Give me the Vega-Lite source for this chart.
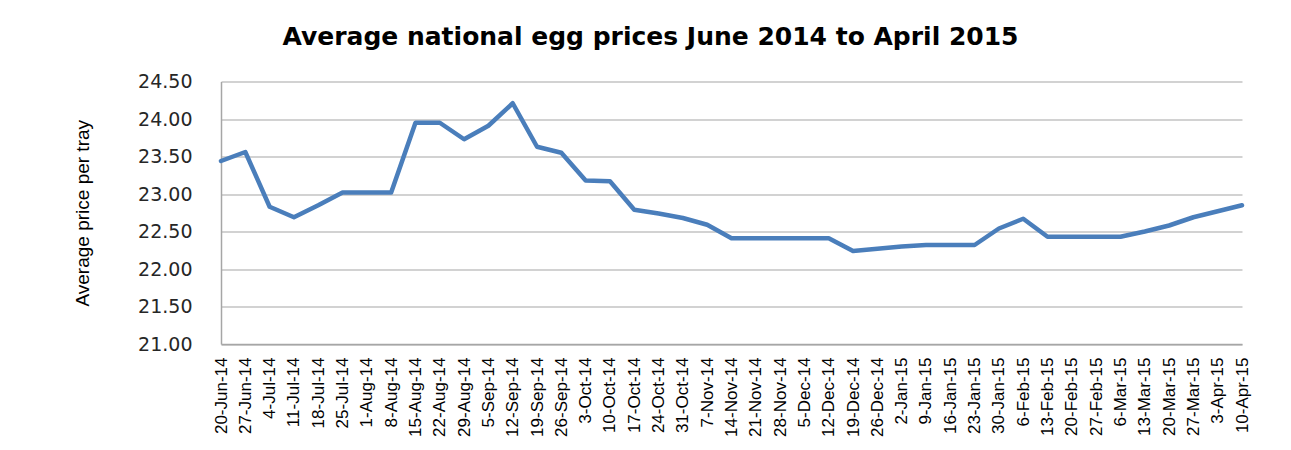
{
  "$schema": "https://vega.github.io/schema/vega-lite/v6.json",
  "autosize": {"type": "none"},
  "width": 1021,
  "height": 262.5,
  "padding": {"left": 221, "top": 81.5, "right": 49, "bottom": 106},
  "background": "white",
  "title": {
    "text": "Average national egg prices June 2014 to April 2015",
    "font": "DejaVu Sans",
    "fontSize": 25,
    "fontWeight": "bold",
    "color": "#000000",
    "anchor": "middle",
    "dx": -81,
    "offset": 23
  },
  "data": {
    "values": [
      {"week": "20-Jun-14", "price": 23.44},
      {"week": "27-Jun-14", "price": 23.56},
      {"week": "4-Jul-14", "price": 22.83},
      {"week": "11-Jul-14", "price": 22.69},
      {"week": "18-Jul-14", "price": 22.85},
      {"week": "25-Jul-14", "price": 23.02},
      {"week": "1-Aug-14", "price": 23.02},
      {"week": "8-Aug-14", "price": 23.02},
      {"week": "15-Aug-14", "price": 23.95},
      {"week": "22-Aug-14", "price": 23.95},
      {"week": "29-Aug-14", "price": 23.73},
      {"week": "5-Sep-14", "price": 23.91},
      {"week": "12-Sep-14", "price": 24.21},
      {"week": "19-Sep-14", "price": 23.63},
      {"week": "26-Sep-14", "price": 23.55},
      {"week": "3-Oct-14", "price": 23.18},
      {"week": "10-Oct-14", "price": 23.17},
      {"week": "17-Oct-14", "price": 22.79},
      {"week": "24-Oct-14", "price": 22.74},
      {"week": "31-Oct-14", "price": 22.68},
      {"week": "7-Nov-14", "price": 22.59},
      {"week": "14-Nov-14", "price": 22.41},
      {"week": "21-Nov-14", "price": 22.41},
      {"week": "28-Nov-14", "price": 22.41},
      {"week": "5-Dec-14", "price": 22.41},
      {"week": "12-Dec-14", "price": 22.41},
      {"week": "19-Dec-14", "price": 22.24},
      {"week": "26-Dec-14", "price": 22.27},
      {"week": "2-Jan-15", "price": 22.30},
      {"week": "9-Jan-15", "price": 22.32},
      {"week": "16-Jan-15", "price": 22.32},
      {"week": "23-Jan-15", "price": 22.32},
      {"week": "30-Jan-15", "price": 22.54},
      {"week": "6-Feb-15", "price": 22.67},
      {"week": "13-Feb-15", "price": 22.43},
      {"week": "20-Feb-15", "price": 22.43},
      {"week": "27-Feb-15", "price": 22.43},
      {"week": "6-Mar-15", "price": 22.43},
      {"week": "13-Mar-15", "price": 22.50},
      {"week": "20-Mar-15", "price": 22.58},
      {"week": "27-Mar-15", "price": 22.69},
      {"week": "3-Apr-15", "price": 22.77},
      {"week": "10-Apr-15", "price": 22.85}
    ]
  },
  "mark": {"type": "line", "color": "#4a7ebb", "strokeWidth": 4.5, "strokeJoin": "round", "strokeCap": "round"},
  "encoding": {
    "x": {
      "field": "week",
      "type": "ordinal",
      "sort": null,
      "scale": {"type": "point", "padding": 0},
      "axis": {
        "title": null,
        "labelAngle": 270,
        "labelAlign": "right",
        "labelBaseline": "middle",
        "labelFont": "Liberation Sans",
        "labelFontSize": 17,
        "labelColor": "#000000",
        "labelPadding": 13,
        "labelOverlap": false,
        "ticks": false,
        "tickSize": 0,
        "grid": false,
        "domainColor": "#a6a6a6",
        "domainWidth": 1.5
      }
    },
    "y": {
      "field": "price",
      "type": "quantitative",
      "scale": {"domain": [21, 24.5], "nice": false, "zero": false},
      "axis": {
        "title": "Average price per tray",
        "titleFont": "Liberation Sans",
        "titleFontSize": 19,
        "titleFontWeight": "normal",
        "titleColor": "#000000",
        "titleAngle": 270,
        "titleAlign": "center",
        "titleBaseline": "middle",
        "titleX": -139,
        "titleY": 131.25,
        "values": [21, 21.5, 22, 22.5, 23, 23.5, 24, 24.5],
        "format": ".2f",
        "labelFont": "DejaVu Sans",
        "labelFontSize": 19,
        "labelColor": "#262626",
        "labelPadding": 29,
        "ticks": false,
        "tickSize": 0,
        "grid": true,
        "gridColor": "#a6a6a6",
        "gridWidth": 1.2,
        "domainColor": "#a6a6a6",
        "domainWidth": 1.5
      }
    }
  },
  "config": {"view": {"stroke": null}}
}
